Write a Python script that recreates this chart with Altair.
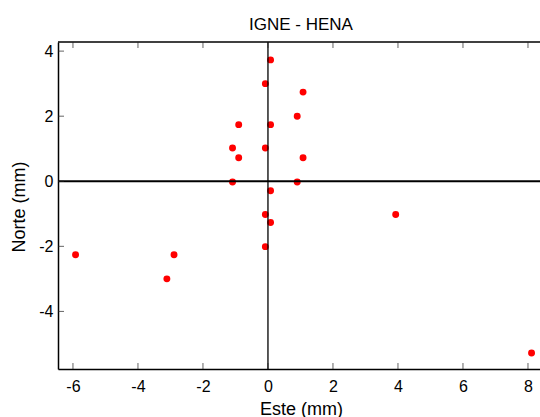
import altair as alt
import pandas as pd

# Data
este = [0.08, -0.08, 1.08, 0.90, -0.90, 0.08, -1.09, -0.08, -0.90, 1.08, -1.09,
        0.90, 0.08, -0.08, 0.08, -0.08, -5.92, -2.89, -3.11, 3.93, 8.11]
norte = [3.73, 3.00, 2.74, 2.00, 1.74, 1.74, 1.02, 1.02, 0.72, 0.72, -0.02,
         -0.02, -0.29, -1.02, -1.27, -2.01, -2.26, -2.26, -3.00, -1.02, -5.28]
x_ticks = [-6, -4, -2, 0, 2, 4, 6, 8]
y_ticks = [-4, -2, 0, 2, 4]
title_text = "IGNE - HENA"
x_title = "Este (mm)"
y_title = "Norte (mm)"

W, H = 482, 327
XDOM = [-6.46, 8.37]
YDOM = [-5.77, 4.28]
FONT = "Liberation Sans"

df = pd.DataFrame({"este": este, "norte": norte})
xs = alt.Scale(domain=XDOM, nice=False, zero=False)
ys = alt.Scale(domain=YDOM, nice=False, zero=False)

xaxis = alt.Axis(values=x_ticks, title=x_title, grid=False, ticks=False,
                 domainColor="black", domainWidth=1.5,
                 labelFont=FONT, labelFontSize=16, labelColor="black",
                 labelPadding=9, labelFlush=False,
                 labelExpr="toString(datum.value)",
                 titleFont=FONT, titleFontSize=18, titleFontWeight="normal",
                 titleColor="black", titleX=243, titleY=45,
                 titleBaseline="alphabetic")
yaxis = alt.Axis(values=y_ticks, title=y_title, grid=False, ticks=False,
                 domainColor="black", domainWidth=1.5,
                 labelFont=FONT, labelFontSize=16, labelColor="black",
                 labelPadding=5, labelFlush=False,
                 labelExpr="toString(datum.value)",
                 titleFont=FONT, titleFontSize=18, titleFontWeight="normal",
                 titleColor="black", titleX=-39, titleY=H / 2 + 1,
                 titleAngle=-90, titleBaseline="middle", titleAlign="center")

zero = pd.DataFrame({"v": [0]})
vline = alt.Chart(zero).mark_rule(color="black", strokeWidth=1.3).encode(
    x=alt.X("v:Q", scale=xs, axis=xaxis))
hline = alt.Chart(zero).mark_rule(color="black", strokeWidth=1.8).encode(
    y=alt.Y("v:Q", scale=ys, axis=yaxis))

top_border = alt.Chart(zero).mark_rule(color="black", strokeWidth=1.5).encode(
    x=alt.value(0), x2=alt.value(W), y=alt.value(0))

xt = pd.DataFrame({"t": x_ticks})
yt = pd.DataFrame({"t": y_ticks})
bottom_ticks = alt.Chart(xt).mark_tick(orient="vertical", size=6, thickness=1, color="#222").encode(
    x=alt.X("t:Q", scale=xs, axis=xaxis), y=alt.value(H - 3))
top_ticks = alt.Chart(xt).mark_tick(orient="vertical", size=6, thickness=1, color="#222").encode(
    x=alt.X("t:Q", scale=xs, axis=xaxis), y=alt.value(3))
left_ticks = alt.Chart(yt).mark_tick(orient="horizontal", size=6, thickness=1, color="#222").encode(
    y=alt.Y("t:Q", scale=ys, axis=yaxis), x=alt.value(3))

points = alt.Chart(df).mark_circle(size=48, color="#ff0000", opacity=1, clip=True).encode(
    x=alt.X("este:Q", scale=xs, axis=xaxis),
    y=alt.Y("norte:Q", scale=ys, axis=yaxis),
)

chart = alt.layer(points, vline, hline, top_border, bottom_ticks, top_ticks, left_ticks).properties(
    width=W, height=H,
    autosize=alt.AutoSizeParams(type="none"),
    padding={"left": 58, "top": 42, "right": 0, "bottom": 48},
    title=alt.TitleParams(title_text, font=FONT, fontSize=17, fontWeight="normal",
                          color="black", anchor="middle", frame="group",
                          offset=7, dx=2),
    background="white",
).configure_view(stroke=None)

chart.save("out.html", embed_options={"renderer": "svg", "actions": False})
